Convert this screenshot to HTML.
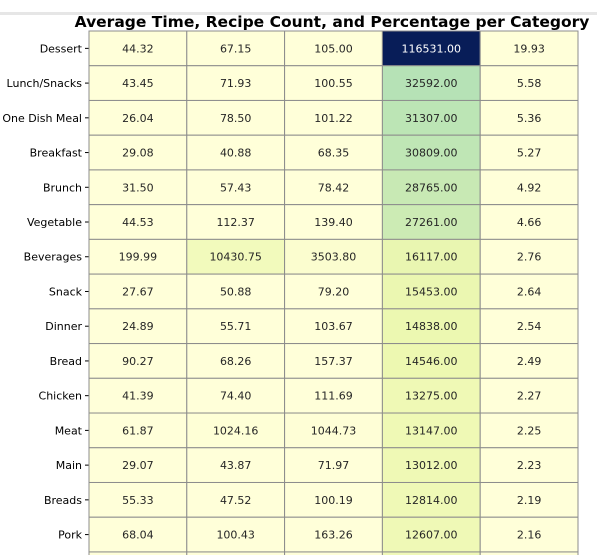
<!DOCTYPE html>
<html><head><meta charset="utf-8">
<style>
html,body{margin:0;padding:0;background:#fff;}
body{width:597px;height:555px;overflow:hidden;position:relative;font-family:"DejaVu Sans","Liberation Sans",sans-serif;}
</style></head>
<body>
<div style="position:absolute;left:0;top:12px;width:597px;height:3px;background:#e6e6e6;"></div>
<svg id="chart" width="597" height="555" style="position:absolute;left:0;top:0;overflow:hidden">
<text x="332" y="27" text-anchor="middle" font-size="15.5" font-weight="bold" font-family="DejaVu Sans, Liberation Sans, sans-serif" fill="#000">Average Time, Recipe Count, and Percentage per Category</text>
<g id="cells"></g>
</svg>
<script>
const categories = ["Dessert","Lunch/Snacks","One Dish Meal","Breakfast","Brunch","Vegetable","Beverages","Snack","Dinner","Bread","Chicken","Meat","Main","Breads","Pork","Extra"];
const col1 = [44.32,43.45,26.04,29.08,31.50,44.53,199.99,27.67,24.89,90.27,41.39,61.87,29.07,55.33,68.04,40.00];
const col2 = [67.15,71.93,78.50,40.88,57.43,112.37,10430.75,50.88,55.71,68.26,74.40,1024.16,43.87,47.52,100.43,60.00];
const col3 = [105.00,100.55,101.22,68.35,78.42,139.40,3503.80,79.20,103.67,157.37,111.69,1044.73,71.97,100.19,163.26,100.00];
const col4 = [116531,32592,31307,30809,28765,27261,16117,15453,14838,14546,13275,13147,13012,12814,12607,12000];
const col5 = [19.93,5.58,5.36,5.27,4.92,4.66,2.76,2.64,2.54,2.49,2.27,2.25,2.23,2.19,2.16,2.10];
const columns = [col1,col2,col3,col4,col5];

const leftX=89, topY=31, cw=97.8, rh=34.73;
const vmax = Math.max(...columns.flat());
const stops=["#ffffd9","#edf8b1","#c7e9b4","#7fcdbb","#41b6c4","#1d91c0","#225ea8","#253494","#081d58"];
function hex(h){return [1,3,5].map(i=>parseInt(h.substr(i,2),16));}
function color(v){
  let t=Math.max(0,Math.min(1,v/vmax))*(stops.length-1);
  let i=Math.min(Math.floor(t),stops.length-2), f=t-i;
  const a=hex(stops[i]),b=hex(stops[i+1]);
  return "rgb("+a.map((x,k)=>Math.round(x+(b[k]-x)*f)).join(",")+")";
}
function xPos(c){return leftX+c*cw;}
function yPos(r){return topY+r*rh;}
const ns="http://www.w3.org/2000/svg";
const g=document.getElementById("cells");
categories.forEach((cat,r)=>{
  const lab=document.createElementNS(ns,"text");
  
  
  lab.setAttribute("x",leftX-7);lab.setAttribute("y",yPos(r)+rh/2+4);
  lab.setAttribute("text-anchor","end");lab.setAttribute("font-size","11");lab.setAttribute("fill","#000");
  lab.textContent=cat;g.appendChild(lab);
  const tk=document.createElementNS(ns,"line");
  
  
  tk.setAttribute("x1",leftX-4);tk.setAttribute("x2",leftX);tk.setAttribute("y1",yPos(r)+rh/2);tk.setAttribute("y2",yPos(r)+rh/2);
  tk.setAttribute("stroke","#000");g.appendChild(tk);
  columns.forEach((col,c)=>{
    const v=col[r];
    const rect=document.createElementNS(ns,"rect");
    
    
    rect.setAttribute("x",xPos(c));rect.setAttribute("y",yPos(r));
    rect.setAttribute("width",cw);rect.setAttribute("height",rh);
    rect.setAttribute("fill",color(v));rect.setAttribute("stroke","#8c8c8c");rect.setAttribute("stroke-width","1");
    g.appendChild(rect);
    const t=document.createElementNS(ns,"text");
    
    
    t.setAttribute("x",xPos(c)+cw/2);t.setAttribute("y",yPos(r)+rh/2+4);
    t.setAttribute("text-anchor","middle");t.setAttribute("font-size","11");
    t.setAttribute("fill",v/vmax>0.5?"#fff":"#262626");
    t.textContent=v.toFixed(2);g.appendChild(t);
  });
});
</script>
</body></html>
